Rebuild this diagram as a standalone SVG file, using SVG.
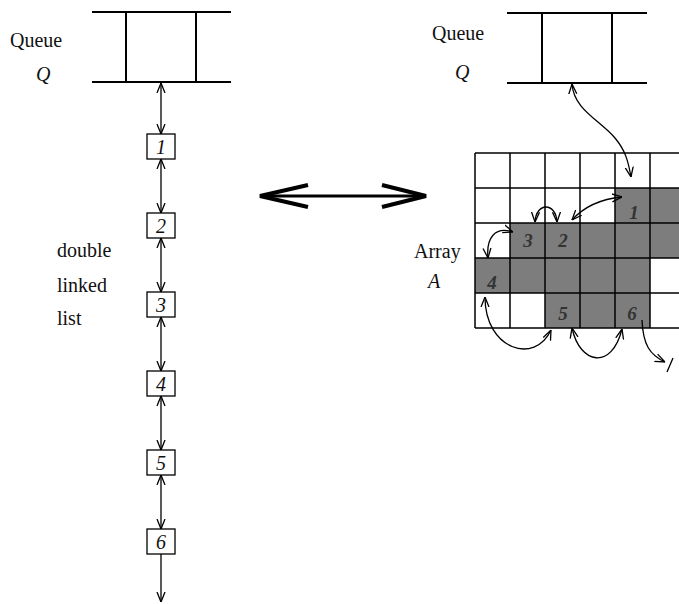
<svg xmlns="http://www.w3.org/2000/svg" width="679" height="604" viewBox="0 0 679 604">
<style>
.t{font-family:"Liberation Serif","Times New Roman",serif;font-size:20px;fill:#111}
.i{font-family:"Liberation Serif","Times New Roman",serif;font-style:italic;font-size:20px;fill:#111}
.n{font-family:"Liberation Serif","Times New Roman",serif;font-style:italic;font-weight:bold;font-size:19px;fill:#333;text-anchor:middle}
.q{stroke:#000;stroke-width:2;fill:none}
.box{fill:#fff;stroke:#000;stroke-width:1.3}
.c{fill:none;stroke:#000;stroke-width:1.3}
.g{stroke:#000;stroke-width:1.5;fill:none}
.sh{fill:#7d7d7d}
</style>
<defs>
<marker id="ah" viewBox="0 0 10 10" refX="10" refY="5" markerWidth="10" markerHeight="10" markerUnits="userSpaceOnUse" orient="auto-start-reverse">
<path d="M0,1 L10,5 L0,9" fill="none" stroke="#000" stroke-width="1.3"/>
</marker>
</defs>
<rect width="679" height="604" fill="#fff"/>

<g id="queue-left">
<line class="q" x1="92" y1="12" x2="231" y2="12"/>
<line class="q" x1="92" y1="82" x2="231" y2="82"/>
<line class="q" x1="126" y1="12" x2="126" y2="82"/>
<line class="q" x1="196" y1="12" x2="196" y2="82"/>
<text class="t" x="10" y="47">Queue</text>
<text class="i" x="36" y="81">Q</text>
</g>

<g id="list-label">
<text class="t" x="57" y="257">double</text>
<text class="t" x="57" y="292">linked</text>
<text class="t" x="57" y="325">list</text>
</g>

<g id="node1"><rect class="box" x="147" y="134" width="28" height="25"/><text class="i" x="161" y="154" text-anchor="middle">1</text></g>
<g id="node2"><rect class="box" x="147" y="213" width="28" height="25"/><text class="i" x="161" y="233" text-anchor="middle">2</text></g>
<g id="node3"><rect class="box" x="147" y="292" width="28" height="25"/><text class="i" x="161" y="312" text-anchor="middle">3</text></g>
<g id="node4"><rect class="box" x="147" y="371" width="28" height="25"/><text class="i" x="161" y="391" text-anchor="middle">4</text></g>
<g id="node5"><rect class="box" x="147" y="450" width="28" height="25"/><text class="i" x="161" y="470" text-anchor="middle">5</text></g>
<g id="node6"><rect class="box" x="147" y="529" width="28" height="25"/><text class="i" x="161" y="549" text-anchor="middle">6</text></g>

<g id="queue-right">
<line class="q" x1="507" y1="13" x2="647" y2="13"/>
<line class="q" x1="507" y1="83" x2="647" y2="83"/>
<line class="q" x1="542" y1="13" x2="542" y2="83"/>
<line class="q" x1="612" y1="13" x2="612" y2="83"/>
<text class="t" x="432" y="40">Queue</text>
<text class="i" x="455" y="79">Q</text>
</g>

<g id="array">
<rect class="sh" x="615" y="188" width="70" height="35"/>
<rect class="sh" x="510" y="223" width="175" height="35"/>
<rect class="sh" x="475" y="258" width="175" height="35"/>
<rect class="sh" x="545" y="293" width="105" height="35"/>
<path class="g" d="M475,153 H685 M475,188 H685 M475,223 H685 M475,258 H685 M475,293 H685 M475,328 H685 M475,153 V328 M510,153 V328 M545,153 V328 M580,153 V328 M615,153 V328 M650,153 V328 M685,153 V328"/>
<text class="n" x="634" y="219">1</text>
<text class="n" x="528" y="247">3</text>
<text class="n" x="563" y="247">2</text>
<text class="n" x="492" y="289">4</text>
<text class="n" x="563" y="320">5</text>
<text class="n" x="632" y="320">6</text>
<text class="t" x="414" y="258">Array</text>
<text class="i" x="428" y="288">A</text>
</g>

<g id="equivalence">
<line x1="262" y1="196" x2="424" y2="196" stroke="#000" stroke-width="3"/>
<polyline points="308,185 260,196 308,207" fill="none" stroke="#000" stroke-width="4" stroke-linejoin="miter"/>
<polyline points="382,185 426,196 382,207" fill="none" stroke="#000" stroke-width="4" stroke-linejoin="miter"/>
</g>

<g id="connectors">
<line class="c" x1="161" y1="83" x2="161" y2="134" marker-start="url(#ah)" marker-end="url(#ah)"/>
<line class="c" x1="161" y1="159" x2="161" y2="213" marker-start="url(#ah)" marker-end="url(#ah)"/>
<line class="c" x1="161" y1="238" x2="161" y2="292" marker-start="url(#ah)" marker-end="url(#ah)"/>
<line class="c" x1="161" y1="317" x2="161" y2="371" marker-start="url(#ah)" marker-end="url(#ah)"/>
<line class="c" x1="161" y1="396" x2="161" y2="450" marker-start="url(#ah)" marker-end="url(#ah)"/>
<line class="c" x1="161" y1="475" x2="161" y2="529" marker-start="url(#ah)" marker-end="url(#ah)"/>
<line class="c" x1="161" y1="554" x2="161" y2="602" marker-end="url(#ah)"/>

<path class="c" d="M572,84 C574,110 600,120 615,138 C625,150 628,160 631,177" marker-start="url(#ah)" marker-end="url(#ah)"/>
<path class="c" d="M622,197 Q590,200 572,220" marker-start="url(#ah)" marker-end="url(#ah)"/>
<path class="c" d="M535,222 C536,202 556,202 557,222" marker-start="url(#ah)" marker-end="url(#ah)"/>
<path class="c" d="M513,232 C495,226 486,238 488,258" marker-start="url(#ah)" marker-end="url(#ah)"/>
<path class="c" d="M485,297 C485,350 535,365 551,330" marker-start="url(#ah)" marker-end="url(#ah)"/>
<path class="c" d="M572,328 C580,365 612,370 622,329" marker-start="url(#ah)" marker-end="url(#ah)"/>
<path class="c" d="M642,320 C643,345 650,355 665,362" marker-end="url(#ah)"/>
<line class="c" x1="667" y1="372" x2="673" y2="358" stroke-width="1.6"/>
</g>
</svg>
